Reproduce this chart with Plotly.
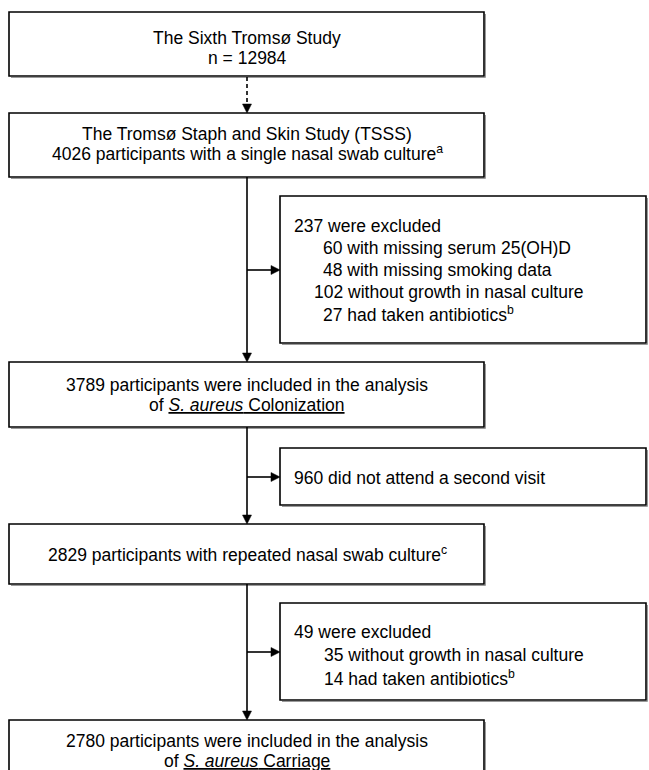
import plotly.graph_objects as go

# ---- content (text of the flowchart) ----
main_boxes = [
    ["The Sixth Tromsø Study", "n = 12984"],
    ["The Tromsø Staph and Skin Study (TSSS)",
     "4026 participants with a single nasal swab culture<sup>a</sup>"],
    ["3789 participants were included in the analysis",
     "of <u><i>S. aureus</i> Colonization</u>"],
    ["2829 participants with repeated nasal swab culture<sup>c</sup>"],
    ["2780 participants were included in the analysis",
     "of <u><i>S. aureus</i> Carriage</u>"],
]
excl_boxes = [
    ["237 were excluded",
     "60 with missing serum 25(OH)D",
     "48 with missing smoking data",
     "102 without growth in nasal culture",
     "27 had taken antibiotics<sup>b</sup>"],
    ["960 did not attend a second visit"],
    ["49 were excluded",
     "35 without growth in nasal culture",
     "14 had taken antibiotics<sup>b</sup>"],
]

# ---- layout geometry (page pixels) ----
W, H = 649, 770
BX0, BX1 = 9, 484           # main boxes x-extent
CX = 247                    # flow line x
main_geo = [(12, 76, [38, 58]), (113, 177, [134, 153]), (362, 427, [385, 405]),
            (524, 584, [554]), (720, 800, [741, 761])]
EX0, EX1 = 280, 646
excl_geo = [(196, 343, [(292, 226), (321, 248), (321, 270), (312, 292), (321, 314)], 270),
            (448, 505, [(292, 478)], 477),
            (603, 700, [(292, 632), (322, 655), (322, 678)], 652)]

FONT = dict(family="Liberation Sans, Arial, sans-serif", size=17.5, color="black")
LINE = dict(color="black", width=1.6)
SHADOW = dict(color="#9a9a9a", width=1)

shapes, annotations = [], []

def arrowhead_down(x, y):
    return dict(type="path", path=f"M {x-4.5},{y-9} L {x+4.5},{y-9} L {x},{y} Z",
                xref="x", yref="y", fillcolor="black", line=dict(color="black", width=0.5))

def arrowhead_right(x, y):
    return dict(type="path", path=f"M {x-9},{y-4.5} L {x-9},{y+4.5} L {x},{y} Z",
                xref="x", yref="y", fillcolor="black", line=dict(color="black", width=0.5))

def box(x0, x1, y0, y1):
    out = [dict(type="path", path=f"M {x1+1.5},{y0+2} L {x1+1.5},{y1+1.5} L {x0+2},{y1+1.5}",
                xref="x", yref="y", line=SHADOW, layer="below"),
           dict(type="rect", x0=x0, x1=x1, y0=y0, y1=y1, xref="x", yref="y",
                line=LINE, fillcolor="white", layer="below")]
    return out

for (top, bot, ys), lines in zip(main_geo, main_boxes):
    shapes += box(BX0, BX1, top, bot)
    for y, t in zip(ys, lines):
        annotations.append(dict(x=CX, y=y, text=t, showarrow=False, xanchor="center",
                                yanchor="middle", font=FONT, xref="x", yref="y"))

for (top, bot, pos, ay), lines in zip(excl_geo, excl_boxes):
    shapes += box(EX0, EX1, top, bot)
    for (x, y), t in zip(pos, lines):
        annotations.append(dict(x=x, y=y, text=t, showarrow=False, xanchor="left",
                                yanchor="middle", font=FONT, xref="x", yref="y"))
    shapes.append(dict(type="line", x0=CX, x1=EX0 - 8, y0=ay, y1=ay, xref="x", yref="y", line=LINE))
    shapes.append(arrowhead_right(EX0, ay))

# vertical connectors
shapes.append(dict(type="line", x0=CX, x1=CX, y0=77, y1=105, xref="x", yref="y",
                   line=dict(color="black", width=1.6, dash="4px,3px")))
shapes.append(arrowhead_down(CX, 113))
for y0, y1 in [(177, 362), (427, 524), (584, 720)]:
    shapes.append(dict(type="line", x0=CX, x1=CX, y0=y0, y1=y1 - 8, xref="x", yref="y", line=LINE))
    shapes.append(arrowhead_down(CX, y1))

fig = go.Figure()
fig.add_trace(go.Scatter(x=[0, W], y=[0, H], mode="markers", marker=dict(opacity=0),
                         hoverinfo="skip", showlegend=False))
fig.update_layout(
    width=W, height=H, margin=dict(l=0, r=0, t=0, b=0),
    paper_bgcolor="white", plot_bgcolor="white",
    xaxis=dict(range=[0, W], visible=False, fixedrange=True),
    yaxis=dict(range=[H, 0], visible=False, fixedrange=True),
    shapes=shapes, annotations=annotations, showlegend=False,
)
fig.write_html("out.html", config={"displayModeBar": False},
               post_script="document.body.style.margin='0';document.body.style.overflow='hidden';")
